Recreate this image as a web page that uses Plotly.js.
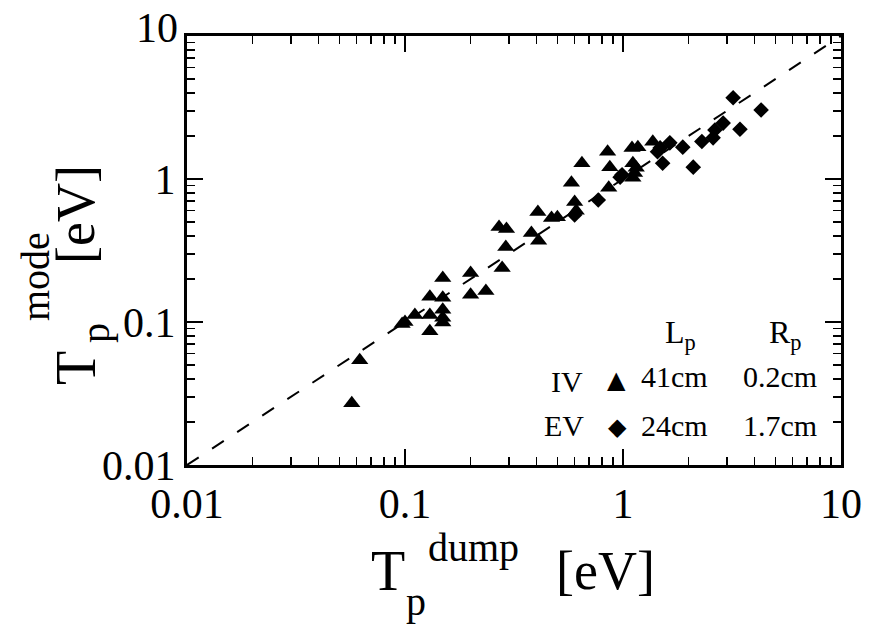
<!DOCTYPE html>
<html>
<head>
<meta charset="utf-8">
<script src="https://cdn.plot.ly/plotly-3.0.1.min.js"></script>
<style>html,body{margin:0;padding:0;background:#fff;}#chart{width:875px;height:633px;}</style>
</head>
<body>
<div id="chart"></div>
<script>
// IV data (triangles): Lp = 41cm, Rp = 0.2cm
var ivDump = [0.057, 0.062, 0.1, 0.097, 0.111, 0.13, 0.13, 0.13, 0.149, 0.149, 0.149, 0.149, 0.149, 0.2, 0.2, 0.235, 0.279, 0.27, 0.292, 0.29, 0.38, 0.407, 0.41, 0.47, 0.5, 0.58, 0.6, 0.61, 0.648, 0.85, 0.87, 0.86, 1.1, 1.17, 1.11, 1.13, 1.11, 1.15, 1.37];
var ivMode = [0.027, 0.054, 0.1, 0.097, 0.112, 0.15, 0.112, 0.086, 0.203, 0.148, 0.122, 0.107, 0.099, 0.22, 0.155, 0.165, 0.239, 0.461, 0.447, 0.334, 0.42, 0.588, 0.37, 0.533, 0.54, 0.94, 0.69, 0.6, 1.29, 1.55, 1.21, 0.87, 1.65, 1.67, 1.29, 1.1, 1.02, 1.2, 1.82];
// EV data (diamonds): Lp = 24cm, Rp = 1.7cm
var evDump = [0.6, 0.77, 0.97, 0.99, 1.44, 1.48, 1.52, 1.64, 1.88, 2.1, 2.3, 2.59, 2.64, 2.88, 3.2, 3.44, 4.3];
var evMode = [0.56, 0.713, 1.03, 1.07, 1.55, 1.65, 1.29, 1.79, 1.67, 1.21, 1.83, 1.94, 2.2, 2.46, 3.7, 2.23, 3.04];
// reference line T_mode = T_dump
var refX = [0.01, 10];
var refY = [0.01, 10];
// ticks
var tickVals = [0.01, 0.1, 1, 10];
var xTickText = ["0.01", "0.1", "1", "10"];
var yTickText = ["0.01", "0.1", "1", ""];   // top label "10" drawn lifted, as in the original
var yTopLabel = "10";
// legend table text
var legendHead = ["L<sub>p</sub>", "R<sub>p</sub>"];
var legendRows = [["IV", "\u25B2", "41cm", "0.2cm"], ["EV", "\u25C6", "24cm", "1.7cm"]];

var FONT = "Liberation Serif";
var L = 187, T = 36, W = 654, H = 429;
function px(x) { return (x - L) / W; }
function py(y) { return (T + H - y) / H; }
function ann(text, x, y, size, xa, angle, family) {
  return {text: text, xref: 'paper', yref: 'paper', x: px(x), y: py(y), showarrow: false,
    xanchor: xa || 'center', yanchor: 'middle', textangle: angle || 0,
    font: {family: family || FONT, size: size, color: '#000'}};
}

var traces = [
  {x: refX, y: refY, mode: 'lines', line: {color: '#000', width: 2, dash: '14px,16px'}, hoverinfo: 'skip'},
  {x: ivDump, y: ivMode, mode: 'markers', marker: {symbol: 'triangle-up', size: 15, color: '#000', line: {width: 0}}},
  {x: evDump, y: evMode, mode: 'markers', marker: {symbol: 'diamond', size: 12, color: '#000', line: {width: 0}}}
];

function makeAxis(ticktext) {
  return {
    type: 'log', range: [-2, 1], tickmode: 'array', tickvals: tickVals, ticktext: ticktext,
    ticks: 'inside', ticklen: 16, tickwidth: 2, tickcolor: '#000',
    showline: true, linewidth: 3, linecolor: '#000', mirror: 'allticks',
    showgrid: false, zeroline: false,
    tickfont: {family: FONT, size: 42, color: '#000'},
    minor: {dtick: 'D1', ticks: 'inside', ticklen: 8, tickwidth: 1.5, tickcolor: '#000', showgrid: false}
  };
}

var annotations = [
  // lifted top y tick label
  ann(yTopLabel, 180, 28, 42, 'right'),
  // x title
  ann('T', 369, 571, 56, 'left'),
  ann('p', 404, 601, 40, 'left'),
  ann('dump', 426, 547, 40, 'left'),
  ann('[eV]', 554, 571, 54, 'left'),
  // y title
  ann('T', 76, 368, 56, 'center', -90),
  ann('p', 95, 333, 40, 'center', -90),
  ann('mode', 35, 277, 40, 'center', -90),
  ann('[eV]', 76, 215, 54, 'center', -90),
  // legend table
  ann(legendHead[0], 680, 334, 32),
  ann(legendHead[1], 785, 334, 32),
  ann(legendRows[0][0], 567, 381, 30),
  ann(legendRows[0][1], 616, 380, 24, 'center', 0, 'DejaVu Sans'),
  ann(legendRows[0][2], 639, 376, 30, 'left'),
  ann(legendRows[0][3], 741, 376, 30, 'left'),
  ann(legendRows[1][0], 564, 425, 30),
  ann(legendRows[1][1], 617, 427, 24, 'center', 0, 'DejaVu Sans'),
  ann(legendRows[1][2], 639, 425, 30, 'left'),
  ann(legendRows[1][3], 741, 425, 30, 'left')
];

var layout = {
  width: 875, height: 633,
  margin: {l: L, r: 875 - L - W, t: T, b: 633 - T - H, pad: 0},
  paper_bgcolor: '#fff', plot_bgcolor: '#fff',
  font: {family: FONT, color: '#000'},
  showlegend: false,
  xaxis: makeAxis(xTickText), yaxis: makeAxis(yTickText),
  annotations: annotations
};
Plotly.newPlot('chart', traces, layout, {staticPlot: true});
</script>
</body>
</html>
